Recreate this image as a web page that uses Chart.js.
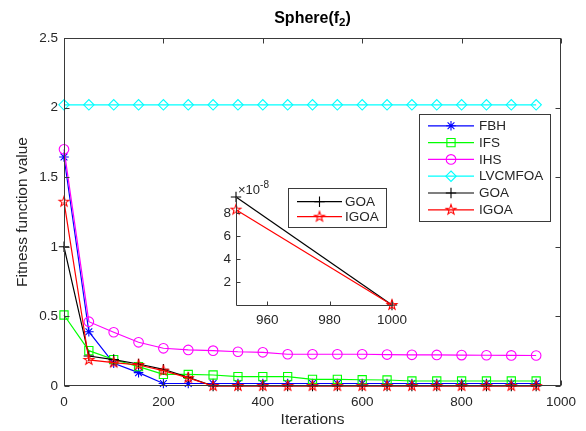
<!DOCTYPE html>
<html><head><meta charset="utf-8">
<script src="https://cdn.jsdelivr.net/npm/chart.js@4.4.0/dist/chart.umd.min.js"></script>
<style>
html,body{margin:0;padding:0;background:#fff;overflow:hidden}
#wrap{position:relative;width:586px;height:431px;background:#fff}
#main{position:absolute;left:0;top:0}
#inset{position:absolute;left:194px;top:170px}
</style></head><body>
<div id="wrap"><canvas id="main" width="586" height="431"></canvas><canvas id="inset" width="220" height="160"></canvas></div>
<script>
// ---- data ----
const iterations = [0,50,100,150,200,250,300,350,400,450,500,550,600,650,700,750,800,850,900,950];
const fbh     = [1.645,0.39,0.163,0.096,0.018,0.018,0.018,0.018,0.018,0.018,0.018,0.018,0.018,0.018,0.018,0.018,0.018,0.018,0.018,0.018];
const ifs     = [0.51,0.254,0.19,0.139,0.083,0.083,0.079,0.067,0.067,0.067,0.048,0.048,0.045,0.043,0.036,0.036,0.036,0.036,0.036,0.036];
const ihs     = [1.70,0.462,0.386,0.314,0.271,0.259,0.254,0.246,0.242,0.228,0.228,0.228,0.228,0.226,0.224,0.223,0.222,0.221,0.220,0.219];
const lvcmfoa = [2.02,2.02,2.02,2.02,2.02,2.02,2.02,2.02,2.02,2.02,2.02,2.02,2.02,2.02,2.02,2.02,2.02,2.02,2.02,2.02];
const goa     = [1.0,0.215,0.19,0.158,0.12,0.062,0,0,0,0,0,0,0,0,0,0,0,0,0,9.4e-8];
const igoa    = [1.324,0.187,0.168,0.151,0.11,0.058,0,0,0,0,0,0,0,0,0,0,0,0,0,8.3e-8];
const seriesNames = ['FBH','IFS','IHS','LVCMFOA','GOA','IGOA'];
const xTicks = [0,200,400,600,800,1000];
const yTicks = [0,0.5,1,1.5,2,2.5];
const yTickLabels = ['0','0.5','1','1.5','2','2.5'];
// inset (zoom on the last iterations)
const insetIterations = [950,1000];
const goaTail  = [9.4e-8,0];
const igoaTail = [8.3e-8,0];
const insetXTicks = [960,980,1000];
const insetYTicks = [2e-8,4e-8,6e-8,8e-8];
const insetYTickLabels = ['2','4','6','8'];

// ---- styles ----
const FONT = '"Liberation Sans", Arial, Helvetica, sans-serif';
const AX = '#3a3a3a';
const TXT = '#262626';
const COLORS = ['#0000ff','#00ff00','#ff00ff','#00ffff','#000000','#ff0000'];

function makePentagram(color, R){
  const s = Math.ceil(2*R+3);
  const c = document.createElement('canvas'); c.width = s; c.height = s;
  const g = c.getContext('2d');
  g.strokeStyle = color; g.lineWidth = 1.1;
  g.beginPath();
  for(let i=0;i<10;i++){
    const r = i%2===0 ? R : R*0.40;
    const a = -Math.PI/2 + i*Math.PI/5;
    const px = s/2 + r*Math.cos(a), py = s/2 + r*Math.sin(a);
    if(i===0) g.moveTo(px,py); else g.lineTo(px,py);
  }
  g.closePath(); g.stroke();
  return c;
}
const pentaRed = makePentagram('#ff0000', 5.2);

const STYLES = ['star','rect','circle','rectRot','cross',pentaRed];
const RADII  = [4.8,5.8,4.8,5.2,5.2,5.2];

function ds(i, xs, ys){
  return {
    label: seriesNames[i],
    data: ys.map((v,k)=>({x:xs[k], y:v})),
    borderColor: COLORS[i], backgroundColor:'rgba(0,0,0,0)',
    borderWidth: 1.2, tension: 0,
    pointStyle: STYLES[i], pointRadius: RADII[i], pointHoverRadius: RADII[i],
    pointBorderColor: COLORS[i], pointBackgroundColor: 'rgba(0,0,0,0)',
    pointBorderWidth: 1.1, clip: false, order: 5 - i
  };
}

function drawMarker(ctx, i, x, y){
  const st = STYLES[i], r = RADII[i], c = COLORS[i];
  ctx.save(); ctx.strokeStyle = c; ctx.lineWidth = 1.1; ctx.beginPath();
  if (typeof st !== 'string'){ ctx.drawImage(st, x - st.width/2, y - st.height/2); ctx.restore(); return; }
  if (st==='circle'){ ctx.arc(x,y,r,0,Math.PI*2); }
  else if (st==='rect'){ const s = r*Math.SQRT1_2; ctx.rect(x-s,y-s,2*s,2*s); }
  else if (st==='rectRot'){ ctx.moveTo(x,y-r); ctx.lineTo(x+r,y); ctx.lineTo(x,y+r); ctx.lineTo(x-r,y); ctx.closePath(); }
  else if (st==='cross'){ ctx.moveTo(x-r,y); ctx.lineTo(x+r,y); ctx.moveTo(x,y-r); ctx.lineTo(x,y+r); }
  else if (st==='star'){ ctx.moveTo(x-r,y); ctx.lineTo(x+r,y); ctx.moveTo(x,y-r); ctx.lineTo(x,y+r);
    const d = r*Math.SQRT1_2; ctx.moveTo(x-d,y-d); ctx.lineTo(x+d,y+d); ctx.moveTo(x-d,y+d); ctx.lineTo(x+d,y-d); }
  ctx.stroke(); ctx.restore();
}

function drawLegend(ctx, idxs, box, lineX0, lineX1, textX, rowY0, rowDY, fontSize){
  ctx.save();
  ctx.fillStyle = '#fff'; ctx.fillRect(box[0],box[1],box[2]-box[0],box[3]-box[1]);
  ctx.strokeStyle = AX; ctx.lineWidth = 1; ctx.strokeRect(box[0]+0.5,box[1]+0.5,box[2]-box[0],box[3]-box[1]);
  ctx.font = fontSize+'px '+FONT; ctx.textBaseline='middle'; ctx.textAlign='left'; ctx.fillStyle = TXT;
  idxs.forEach((i,k)=>{
    const y = rowY0 + k*rowDY;
    ctx.strokeStyle = COLORS[i]; ctx.lineWidth = 1.2;
    ctx.beginPath(); ctx.moveTo(lineX0,y); ctx.lineTo(lineX1,y); ctx.stroke();
    drawMarker(ctx, i, (lineX0+lineX1)/2, y);
    ctx.fillStyle = TXT; ctx.fillText(seriesNames[i], textX, y+0.5);
  });
  ctx.restore();
}

const mainDecor = {
  id:'mainDecor',
  afterDraw(chart){
    const ctx = chart.ctx, ca = chart.chartArea, xs = chart.scales.x, ys = chart.scales.y;
    ctx.save();
    ctx.strokeStyle = AX; ctx.lineWidth = 1;
    const L = Math.round(ca.left)+0.5, R = Math.round(ca.right)-0.5, T = Math.round(ca.top)+0.5, B = Math.round(ca.bottom)-0.5;
    ctx.strokeRect(L, T, R-L, B-T);
    ctx.beginPath();
    xTicks.forEach(v=>{ const p = Math.round(xs.getPixelForValue(v))+0.5;
      ctx.moveTo(p,B); ctx.lineTo(p,B-5); ctx.moveTo(p,T); ctx.lineTo(p,T+5); });
    yTicks.forEach(v=>{ const p = Math.round(ys.getPixelForValue(v))+0.5;
      ctx.moveTo(L,p); ctx.lineTo(L+5,p); ctx.moveTo(R,p); ctx.lineTo(R-5,p); });
    ctx.stroke();
    // title
    ctx.fillStyle = '#000';
    ctx.textBaseline = 'alphabetic'; ctx.textAlign = 'left';
    const big = 'bold 16px '+FONT, small = 'bold 11.5px '+FONT;
    ctx.font = big; const w1 = ctx.measureText('Sphere(f').width, w3 = ctx.measureText(')').width;
    ctx.font = small; const w2 = ctx.measureText('2').width;
    const cx = (ca.left+ca.right)/2; let x0 = cx - (w1+w2+w3)/2; const by = 23;
    ctx.font = big; ctx.fillText('Sphere(f', x0, by);
    ctx.font = small; ctx.fillText('2', x0+w1, by+3);
    ctx.font = big; ctx.fillText(')', x0+w1+w2, by);
    // axis labels
    ctx.fillStyle = TXT; ctx.font = '15.5px '+FONT; ctx.textAlign='center'; ctx.textBaseline='middle';
    ctx.fillText('Iterations', cx, 420);
    ctx.save(); ctx.translate(22.5, (ca.top+ca.bottom)/2); ctx.rotate(-Math.PI/2);
    ctx.fillText('Fitness function value', 0, 0); ctx.restore();
    ctx.restore();
    drawLegend(ctx, [0,1,2,3,4,5], [419,114,550,221], 428, 474, 479, 125.8, 16.8, 13.5);
  }
};

new Chart(document.getElementById('main'), {
  type:'line',
  data:{ datasets:[ds(0,iterations,fbh), ds(1,iterations,ifs), ds(2,iterations,ihs), ds(3,iterations,lvcmfoa), ds(4,iterations,goa), ds(5,iterations,igoa)] },
  options:{
    responsive:false, animation:false, devicePixelRatio:1,
    layout:{ padding:{ top:38, right:25, left:0, bottom:0 } },
    plugins:{ legend:{display:false}, tooltip:{enabled:false}, title:{display:false} },
    events:[],
    scales:{
      x:{ type:'linear', min:0, max:1000,
        afterBuildTicks:s=>{ s.ticks = xTicks.map(v=>({value:v})); },
        afterFit:s=>{ s.height = 45; },
        grid:{ display:false, drawTicks:false }, border:{ display:false },
        ticks:{ padding:8, autoSkip:false, maxRotation:0, color:TXT, font:{ family:FONT, size:13.5 }, callback:v=>String(v) } },
      y:{ type:'linear', min:0, max:2.5,
        afterBuildTicks:s=>{ s.ticks = yTicks.map(v=>({value:v})); },
        afterFit:s=>{ s.width = 64; },
        grid:{ display:false, drawTicks:false }, border:{ display:false },
        ticks:{ padding:6, autoSkip:false, color:TXT, font:{ family:FONT, size:13.5 }, callback:(v)=>yTickLabels[yTicks.indexOf(v)] ?? String(v) } }
    }
  },
  plugins:[mainDecor]
});

const insetDecor = {
  id:'insetDecor',
  afterDraw(chart){
    const ctx = chart.ctx, ca = chart.chartArea, xs = chart.scales.x, ys = chart.scales.y;
    ctx.save(); ctx.strokeStyle = AX; ctx.lineWidth = 1;
    const L = Math.round(ca.left)+0.5, R = Math.round(ca.right)+1, T = Math.round(ca.top), B = Math.round(ca.bottom)+0.5;
    ctx.beginPath(); ctx.moveTo(L,T); ctx.lineTo(L,B); ctx.lineTo(R,B);
    insetXTicks.forEach(v=>{ const p = Math.round(xs.getPixelForValue(v))+0.5; ctx.moveTo(p,B); ctx.lineTo(p,B-4); });
    insetYTicks.forEach(v=>{ const p = Math.round(ys.getPixelForValue(v))+0.5; ctx.moveTo(L,p); ctx.lineTo(L+4,p); });
    ctx.stroke();
    ctx.fillStyle = TXT; ctx.textAlign='left'; ctx.textBaseline='middle';
    ctx.font = '13px '+FONT; ctx.fillText('\u00d710', 44, 20);
    const w = ctx.measureText('\u00d710').width;
    ctx.font = '10px '+FONT; ctx.fillText('-8', 44+w, 15);
    ctx.restore();
    drawLegend(ctx, [4,5], [94,18,192,57], 103, 148, 151, 31.7, 15, 13.5);
  }
};

new Chart(document.getElementById('inset'), {
  type:'line',
  data:{ datasets:[ds(4,insetIterations,goaTail), ds(5,insetIterations,igoaTail)] },
  options:{
    responsive:false, animation:false, devicePixelRatio:1,
    layout:{ padding:{ top:27, right:17, left:0, bottom:0 } },
    plugins:{ legend:{display:false}, tooltip:{enabled:false} },
    events:[],
    scales:{
      x:{ type:'linear', min:950, max:1000,
        afterBuildTicks:s=>{ s.ticks = insetXTicks.map(v=>({value:v})); },
        afterFit:s=>{ s.height = 25; },
        grid:{ display:false, drawTicks:false }, border:{ display:false },
        ticks:{ padding:7, autoSkip:false, maxRotation:0, color:TXT, font:{ family:FONT, size:13.5 }, callback:v=>String(v) } },
      y:{ type:'linear', min:0, max:9.4e-8,
        afterBuildTicks:s=>{ s.ticks = insetYTicks.map(v=>({value:v})); },
        afterFit:s=>{ s.width = 42; },
        grid:{ display:false, drawTicks:false }, border:{ display:false },
        ticks:{ padding:5, autoSkip:false, color:TXT, font:{ family:FONT, size:13.5 }, callback:(v)=>{ const k = insetYTicks.findIndex(t=>Math.abs(t-v)<1e-12); return k>=0 ? insetYTickLabels[k] : ''; } } }
    }
  },
  plugins:[insetDecor]
});
</script>
</body></html>
